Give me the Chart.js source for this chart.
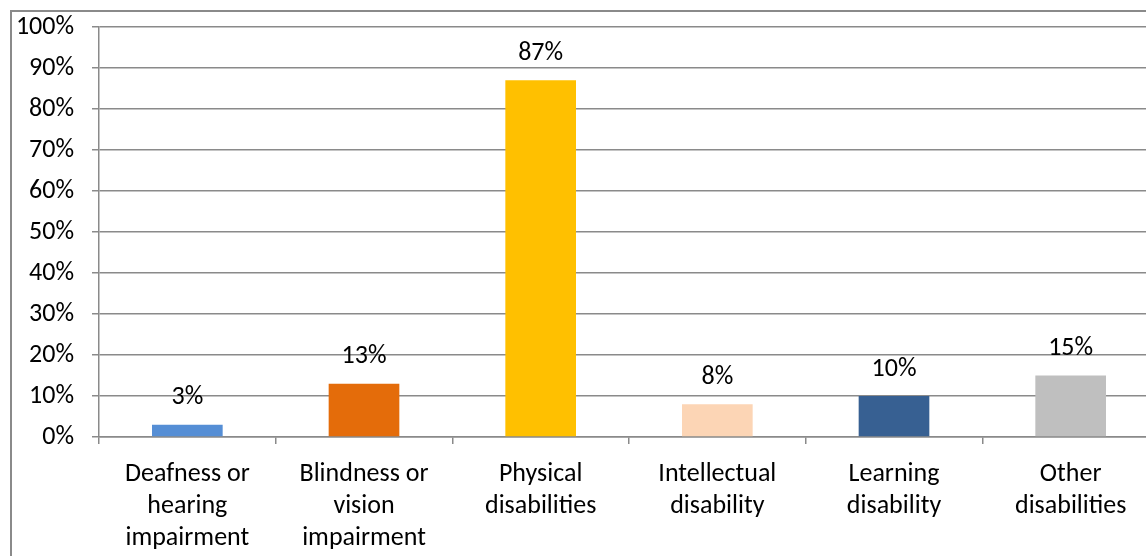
<!DOCTYPE html>
<html>
<head>
<meta charset="utf-8">
<script src="https://cdn.jsdelivr.net/npm/chart.js@4/dist/chart.umd.min.js"></script>
<style>
  html, body { margin: 0; padding: 0; width: 1146px; height: 556px; overflow: hidden; background: #fff; }
  #frame { position: absolute; left: 10px; top: 10px; width: 1200px; height: 600px; border-left: 2px solid #8a8a8a; border-top: 2px solid #8a8a8a; }
  #wrap { position: absolute; left: 0; top: 0; width: 1170px; height: 556px; }
</style>
</head>
<body>
<div id="frame"></div>
<div id="wrap"><canvas id="chart" width="1170" height="556"></canvas></div>
<script>
  // chart data
  const categories = [
    ['Deafness or', 'hearing', 'impairment'],
    ['Blindness or', 'vision', 'impairment'],
    ['Physical', 'disabilities'],
    ['Intellectual', 'disability'],
    ['Learning', 'disability'],
    ['Other', 'disabilities']
  ];
  const shares = [3, 13, 87, 8, 10, 15];
  const barColors = ['#558ED5', '#E46C0A', '#FFC000', '#FCD5B5', '#376092', '#BFBFBF'];
  const yTicks = [0, 10, 20, 30, 40, 50, 60, 70, 80, 90, 100];

  const font = "Carlito, Calibri, 'Open Sans', sans-serif";

  // draws "87%" etc. above each bar
  const valueLabels = {
    id: 'valueLabels',
    afterDatasetsDraw(chart) {
      const ctx = chart.ctx;
      const meta = chart.getDatasetMeta(0);
      ctx.save();
      ctx.font = '26px ' + font;
      ctx.fillStyle = '#000';
      ctx.textAlign = 'center';
      ctx.textBaseline = 'middle';
      meta.data.forEach((bar, i) => {
        ctx.fillText(shares[i] + '%', bar.x, bar.y - 27);
      });
      ctx.restore();
    }
  };

  new Chart(document.getElementById('chart'), {
    type: 'bar',
    data: {
      labels: categories,
      datasets: [{
        data: shares,
        backgroundColor: barColors,
        borderWidth: 0,
        categoryPercentage: 0.4,
        barPercentage: 1
      }]
    },
    options: {
      responsive: false,
      animation: false,
      layout: { padding: { top: 27, right: 11, left: 0, bottom: 0 } },
      plugins: { legend: { display: false }, tooltip: { enabled: false } },
      scales: {
        x: {
          grid: { display: true, drawOnChartArea: false, drawTicks: true, tickLength: 7, color: '#8a8a8a', lineWidth: 1.5 },
          border: { display: true, color: '#8a8a8a', width: 1.5 },
          ticks: { color: '#000', font: { family: font, size: 26, lineHeight: 1.23 }, padding: 15, maxRotation: 0, autoSkip: false },
          afterFit(scale) { scale.height = 119; scale.paddingLeft = 0; scale.paddingRight = 0; }
        },
        y: {
          min: 0,
          max: 100,
          afterBuildTicks(scale) { scale.ticks = yTicks.map(v => ({ value: v })); },
          grid: { color: '#8a8a8a', lineWidth: 1.5, tickLength: 7 },
          border: { display: true, color: '#8a8a8a', width: 1.5 },
          ticks: { color: '#000', font: { family: font, size: 26 }, padding: 18, callback: v => v + '%' },
          afterFit(scale) { scale.width = 99; scale.paddingTop = 0; scale.paddingBottom = 0; }
        }
      }
    },
    plugins: [valueLabels]
  });
</script>
</body>
</html>
